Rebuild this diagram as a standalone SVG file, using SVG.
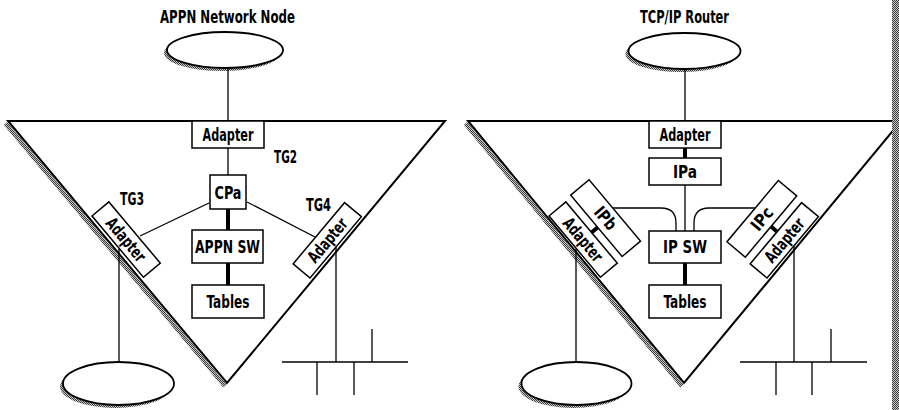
<svg xmlns="http://www.w3.org/2000/svg" width="899" height="410" viewBox="0 0 899 410">
  <defs>
    <pattern id="dots" width="2" height="2" patternUnits="userSpaceOnUse">
      <rect width="2" height="2" fill="#c8c8c8"/>
      <rect width="1" height="1" fill="#3a3a3a"/>
      <rect x="1" y="1" width="1" height="1" fill="#3a3a3a"/>
    </pattern>
    <style>
      .t { font-family: "Liberation Sans Narrow", "DejaVu Sans Condensed", "Liberation Sans", sans-serif; font-stretch: condensed; font-weight: bold; font-size: 17px; fill: #000; text-anchor: middle; }
      .l { text-anchor: start; }
      .box { fill: #fff; stroke: #000; stroke-width: 1.5; }
      .tri { fill: none; stroke: #000; stroke-width: 2; stroke-linejoin: miter; }
      .shadow { fill: none; stroke: url(#dots); stroke-width: 4.5; }
      .sh { fill: url(#dots); }
      .net { fill: #fff; stroke: #000; stroke-width: 1.8; }
      .ln { fill: none; stroke: #000; stroke-width: 1.3; }
      .thick { fill: none; stroke: #000; stroke-width: 4; }
    </style>
  </defs>
  <rect width="899" height="410" fill="#fff"/>

  <!-- ================= LEFT: APPN Network Node ================= -->
  <g id="appn-title"><text class="t" x="227.5" y="23" style="font-size:18px" textLength="135" lengthAdjust="spacingAndGlyphs">APPN Network Node</text></g>

  <g id="appn-top-network">
    <ellipse class="sh" cx="222" cy="53" rx="58" ry="18"/>
    <ellipse class="net" cx="225" cy="50" rx="58" ry="18"/>
  </g>

  <g id="appn-node-triangle">
    <line class="shadow" x1="5.5" y1="123.5" x2="225" y2="386"/>
    <polygon class="tri" points="8,121 445,121 227,383"/>
  </g>

  <g id="appn-bottom-network">
    <ellipse class="sh" cx="115.5" cy="386.5" rx="55.5" ry="21.5"/>
    <ellipse class="net" cx="118.5" cy="383.5" rx="55.5" ry="21.5"/>
  </g>

  <!-- ================= RIGHT: TCP/IP Router ================= -->
  <g id="ip-title"><text class="t" x="684.5" y="23" style="font-size:18px" textLength="89" lengthAdjust="spacingAndGlyphs">TCP/IP Router</text></g>

  <g id="ip-top-network">
    <ellipse class="sh" cx="681.5" cy="54" rx="56" ry="18"/>
    <ellipse class="net" cx="684.5" cy="51" rx="56" ry="18"/>
  </g>

  <g id="ip-router-triangle">
    <line class="shadow" x1="465.5" y1="123.5" x2="682" y2="386"/>
    <polygon class="tri" points="468,121 901,121 684,383"/>
  </g>

  <g id="ip-bottom-network">
    <ellipse class="sh" cx="573.5" cy="386.5" rx="55" ry="21.5"/>
    <ellipse class="net" cx="576.5" cy="383.5" rx="55" ry="21.5"/>
  </g>

  <!-- ================= Connectors ================= -->
  <g id="connectors">
    <!-- left panel -->
    <line class="ln" x1="228" y1="68" x2="228" y2="121"/>
    <line class="ln" x1="228" y1="148" x2="228" y2="175"/>
    <line class="thick" x1="228" y1="209" x2="228" y2="230"/>
    <line class="thick" x1="228" y1="263" x2="228" y2="285"/>
    <line class="ln" x1="209" y1="203" x2="140" y2="236"/>
    <line class="ln" x1="247" y1="202" x2="315" y2="237"/>
    <line class="ln" x1="119" y1="249" x2="119" y2="362"/>
    <line class="ln" x1="336" y1="246" x2="336" y2="362"/>
    <line class="ln" x1="282" y1="362" x2="408" y2="362"/>
    <line class="ln" x1="372" y1="329" x2="372" y2="362"/>
    <line class="ln" x1="317" y1="362" x2="317" y2="395"/>
    <line class="ln" x1="354" y1="362" x2="354" y2="395"/>
    <!-- right panel -->
    <line class="ln" x1="685" y1="69" x2="685" y2="121"/>
    <line class="thick" x1="685" y1="148" x2="685" y2="158"/>
    <line class="ln" x1="685" y1="185" x2="685" y2="231"/>
    <line class="thick" x1="685" y1="263" x2="685" y2="285"/>
    <path class="ln" d="M613,208 H661 Q676,208 676,223 V231"/>
    <path class="ln" d="M755,208 H709 Q694,208 694,223 V231"/>
    <line class="thick" transform="translate(549,216) rotate(50)" x1="40" y1="-22" x2="40" y2="-30"/>
    <line class="thick" transform="translate(767,278) rotate(-50)" x1="42" y1="-22" x2="42" y2="-30"/>
    <line class="ln" x1="576" y1="249" x2="576" y2="362"/>
    <line class="ln" x1="794" y1="246" x2="794" y2="362"/>
    <line class="ln" x1="740" y1="362" x2="867" y2="362"/>
    <line class="ln" x1="831" y1="329" x2="831" y2="362"/>
    <line class="ln" x1="776" y1="362" x2="776" y2="395"/>
    <line class="ln" x1="812" y1="362" x2="812" y2="395"/>
  </g>

  <!-- left panel boxes -->
  <g id="appn-adapter-tg2">
    <rect class="box" x="192" y="121" width="72" height="27"/>
    <text class="t" x="228" y="140.5" textLength="51" lengthAdjust="spacingAndGlyphs">Adapter</text>
  </g>
  <g id="appn-cpa">
    <rect class="box" x="210" y="175" width="36" height="34"/>
    <text class="t" x="228" y="198.5" textLength="27" lengthAdjust="spacingAndGlyphs">CPa</text>
  </g>
  <g id="appn-sw">
    <rect class="box" x="192" y="230" width="71" height="33"/>
    <text class="t" x="227.5" y="253" textLength="65" lengthAdjust="spacingAndGlyphs">APPN SW</text>
  </g>
  <g id="appn-tables">
    <rect class="box" x="192" y="285" width="72" height="33"/>
    <text class="t" x="228" y="308" textLength="43" lengthAdjust="spacingAndGlyphs">Tables</text>
  </g>
  <g id="appn-adapter-tg3" transform="translate(92,216) rotate(50)">
    <rect class="box" x="0" y="-22" width="80" height="22"/>
    <text class="t" x="40" y="-5" textLength="52" lengthAdjust="spacingAndGlyphs">Adapter</text>
  </g>
  <g id="appn-adapter-tg4" transform="translate(310,278) rotate(-50)">
    <rect class="box" x="0" y="-22" width="80" height="22"/>
    <text class="t" x="40" y="-5" textLength="52" lengthAdjust="spacingAndGlyphs">Adapter</text>
  </g>
  <g id="appn-labels">
    <text class="t l" x="274" y="163" textLength="23" lengthAdjust="spacingAndGlyphs">TG2</text>
    <text class="t l" x="120" y="205" textLength="24" lengthAdjust="spacingAndGlyphs">TG3</text>
    <text class="t l" x="306" y="211" textLength="25" lengthAdjust="spacingAndGlyphs">TG4</text>
  </g>

  <!-- right panel boxes -->
  <g id="ip-adapter-top">
    <rect class="box" x="649" y="121" width="72" height="27"/>
    <text class="t" x="685" y="140.5" textLength="51" lengthAdjust="spacingAndGlyphs">Adapter</text>
  </g>
  <g id="ip-ipa">
    <rect class="box" x="649" y="158" width="72" height="27"/>
    <text class="t" x="685" y="177.5" textLength="24" lengthAdjust="spacingAndGlyphs">IPa</text>
  </g>
  <g id="ip-sw">
    <rect class="box" x="649" y="231" width="72" height="32"/>
    <text class="t" x="685" y="253" textLength="44" lengthAdjust="spacingAndGlyphs">IP SW</text>
  </g>
  <g id="ip-tables">
    <rect class="box" x="649" y="285" width="72" height="33"/>
    <text class="t" x="685" y="308" textLength="43" lengthAdjust="spacingAndGlyphs">Tables</text>
  </g>
  <g id="ip-adapter-left" transform="translate(549,216) rotate(50)">
    <rect class="box" x="0" y="-22" width="80" height="22"/>
    <text class="t" x="40" y="-5" textLength="52" lengthAdjust="spacingAndGlyphs">Adapter</text>
  </g>
  <g id="ip-ipb" transform="translate(549,216) rotate(50)">
    <rect class="box" x="-2" y="-54" width="80" height="24"/>
    <text class="t" x="38" y="-36" textLength="25" lengthAdjust="spacingAndGlyphs">IPb</text>
  </g>
  <g id="ip-adapter-right" transform="translate(767,278) rotate(-50)">
    <rect class="box" x="0" y="-22" width="80" height="22"/>
    <text class="t" x="40" y="-5" textLength="52" lengthAdjust="spacingAndGlyphs">Adapter</text>
  </g>
  <g id="ip-ipc" transform="translate(767,278) rotate(-50)">
    <rect class="box" x="2" y="-54" width="80" height="24"/>
    <text class="t" x="42" y="-36" textLength="25" lengthAdjust="spacingAndGlyphs">IPc</text>
  </g>

  <!-- right-edge grey strip -->
  <rect x="892" y="0" width="7" height="410" fill="url(#dots)"/>
</svg>
